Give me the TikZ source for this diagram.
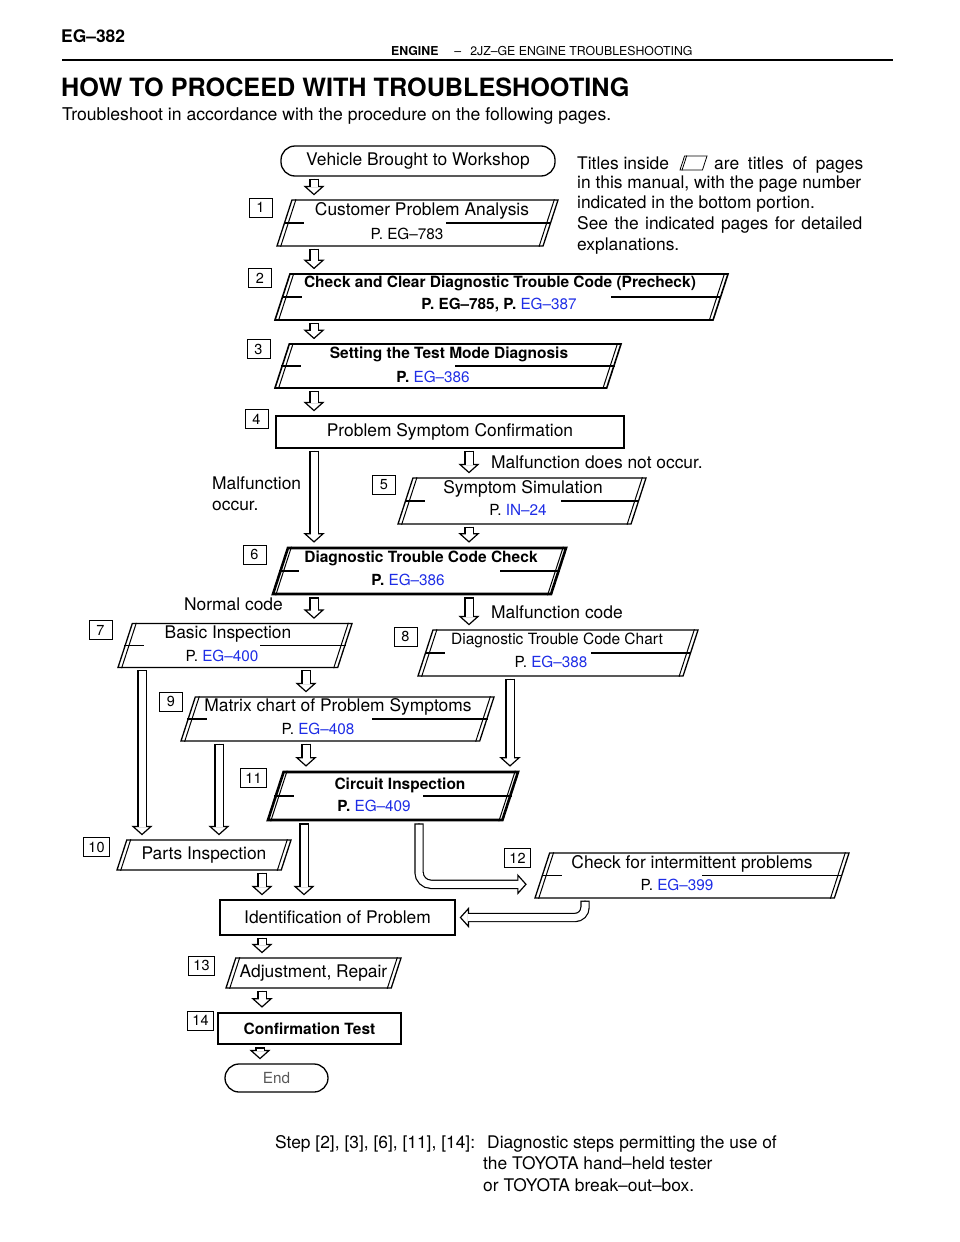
\documentclass[tikz,border=0pt]{standalone}
\usepackage{fontspec}
\setmainfont{TeX Gyre Heros}
\usepackage{xcolor}
\usetikzlibrary{arrows.meta, shapes.geometric, calc}
\definecolor{refblue}{RGB}{30,45,230}
\newcommand{\fsz}[1]{\fontsize{#1}{#1}\selectfont}
\newcommand{\pref}[1]{\textcolor{refblue}{\mdseries #1}}

\begin{document}
\begin{tikzpicture}[x=1pt, y=-1pt,
    every node/.append style={font=\fsz{17.4}, inner sep=1pt},
    pgram/.style={trapezium, trapezium left angle=72, trapezium right angle=108,
      trapezium stretches body=true, draw, line width=1.3pt, inner xsep=2pt, inner ysep=#1},
    heavy/.style={line width=2.6pt},
    plainbox/.style={draw, line width=1.3pt, inner sep=0pt},
    startstop/.style={draw, line width=1.3pt, rounded corners=14pt, inner sep=0pt},
    stepno/.style={draw, line width=0.9pt, minimum width=23pt, minimum height=19pt,
      inner sep=0pt, font=\fsz{14.5}},
    title/.style={},
    boldtitle/.style={font=\bfseries\fsz{15.5}},
    pageref/.style={fill=white, font=\fsz{15.3}},
    boldref/.style={fill=white, font=\bfseries\fsz{15.3}},
    hollow/.style={line width=9.4pt, shorten <=2pt, shorten >=12pt,
      postaction={draw, line width=1.2pt, shorten >=4pt,
        -{Triangle[length=9.5pt, width=21pt, fill=white]}},
      postaction={draw=white, line width=7pt, shorten <=3.2pt, shorten >=12pt}}]
  \useasboundingbox (0,0) rectangle (960,1242);

  % header
  \node (page) [anchor=base west, font=\bfseries\fsz{17.4}] at (60,42) {EG–382};
  \node (head) [anchor=base west, font=\fsz{12.3}] at (390,55.5)
    {\textbf{ENGINE}\hspace{16pt}–\hspace{9pt}2JZ–GE ENGINE TROUBLESHOOTING};
  \draw[line width=1.6pt] (62,60) -- (893,60);
  \node (hdg) [anchor=base west, font=\bfseries\fsz{25.2}] at (60,96)
    {HOW TO PROCEED WITH TROUBLESHOOTING};
  \node (intro) [anchor=base west, font=\fsz{17.6}] at (61,120)
    {Troubleshoot in accordance with the procedure on the following pages.};

  % boxes
  \node (veh) [startstop, minimum width=274pt, minimum height=30pt] at (418,161)
    {Vehicle Brought to Workshop};
  \node (b1) [pgram=23pt, minimum width=281pt] at (417.5,223) {};
  \node (b2) [pgram=23pt, line width=1.6pt, minimum width=453pt] at (501.5,297) {};
  \node (b3) [pgram=22pt, line width=1.6pt, minimum width=346pt] at (448,366) {};
  \node (b4) [plainbox, minimum width=348pt, minimum height=32pt] at (450,432)
    {Problem Symptom Confirmation};
  \node (b5) [pgram=23pt, minimum width=248pt] at (522,501) {};
  \node (b6) [pgram=23pt, heavy, minimum width=293pt] at (419.5,571) {};
  \node (b7) [pgram=22pt, minimum width=234pt] at (235,645.5) {};
  \node (b8) [pgram=23pt, minimum width=280pt] at (558,653) {};
  \node (b9) [pgram=22pt, minimum width=313pt] at (337.5,719) {};
  \node (b10) [pgram=6.8pt, minimum width=174pt] at (204,855) {Parts Inspection};
  \node (b11) [pgram=24pt, heavy, minimum width=250pt] at (393,796) {};
  \node (b12) [pgram=22.5pt, minimum width=314pt] at (692,875.5) {};
  \node (idp) [plainbox, minimum width=235pt, minimum height=35pt] at (337.5,917.5)
    {Identification of Problem};
  \node (b13) [pgram=6.8pt, minimum width=175pt] at (313.5,973) {Adjustment, Repair};
  \node (b14) [plainbox, heavy, minimum width=183pt, minimum height=31pt, font=\bfseries\fsz{15.5}]
    at (309.5,1028.5) {Confirmation Test};
  \node (end) [startstop, minimum width=103pt, minimum height=28pt, font=\fsz{15.3},
    text=black!65] at (276.5,1078) {End};

  % double sides and middle rules of the page boxes
  \foreach \b in {b1,b2,b3,b5,b6,b7,b8,b9,b10,b11,b12,b13}
    \draw[line width=1pt] ($(\b.top left corner)+(4.5,0)$) -- ($(\b.bottom left corner)+(4.5,0)$)
      ($(\b.top right corner)+(-4.5,0)$) -- ($(\b.bottom right corner)+(-4.5,0)$);
  \foreach \b/\len in {b1/105,b2/110,b3/160,b5/78,b6/60,b7/86,b8/100,b9/116,b11/89,b12/140} {
    \draw[line width=1.1pt] ($(\b.top left corner)!.5!(\b.bottom left corner)$) -- +(20,0);
    \draw[line width=1.1pt] ($(\b.top right corner)!.5!(\b.bottom right corner)$) -- +(-\len,0);
  }

  % titles and page numbers
  \node (t1) [title] at (422,211) {Customer Problem Analysis};
  \node (r1) [pageref] at (407,234) {P. EG–783};
  \node (t2) [boldtitle] at (500,283) {Check and Clear Diagnostic Trouble Code (Precheck)};
  \node (r2) [boldref] at (499,305) {P. EG–785, P. \pref{EG–387}};
  \node (t3) [boldtitle] at (449,354) {Setting the Test Mode Diagnosis};
  \node (r3) [boldref] at (433,377) {P. \pref{EG–386}};
  \node (t5) [title] at (523,489) {Symptom Simulation};
  \node (r5) [pageref] at (518,510) {P. \pref{IN–24}};
  \node (t6) [boldtitle] at (421,558) {Diagnostic Trouble Code Check};
  \node (r6) [boldref] at (408,580) {P. \pref{EG–386}};
  \node (t7) [title] at (228,634) {Basic Inspection};
  \node (r7) [pageref] at (222,656) {P. \pref{EG–400}};
  \node (t8) [title, font=\fsz{15.5}] at (557,640) {Diagnostic Trouble Code Chart};
  \node (r8) [pageref] at (551,662) {P. \pref{EG–388}};
  \node (t9) [title] at (338,707) {Matrix chart of Problem Symptoms};
  \node (r9) [pageref] at (318,729) {P. \pref{EG–408}};
  \node (t11) [boldtitle] at (400,785) {Circuit Inspection};
  \node (r11) [boldref] at (374,806) {P. \pref{EG–409}};
  \node (t12) [title] at (692,864) {Check for intermittent problems};
  \node (r12) [pageref] at (677,885) {P. \pref{EG–399}};

  % step numbers
  \foreach \n/\x/\y in {1/260.5/207.5, 2/260/278, 3/258.5/349, 4/256.5/419, 5/384/485,
      6/254.5/554.5, 7/100.5/630, 8/405.5/636.5, 9/171/701.5}
    \node (n\n) [stepno] at (\x,\y) {\n};
  \foreach \n/\x/\y in {10/96.5/847, 11/253.5/778, 12/517.5/858, 13/201.5/965.5, 14/200.5/1020.5}
    \node (n\n) [stepno, minimum width=26pt] at (\x,\y) {\n};

  % branch labels
  \node (occ) [anchor=base west] at (211,489) {Malfunction};
  \node (occ2) [anchor=base west] at (211,510) {occur.};
  \node (nocc) [anchor=base west] at (490,468) {Malfunction does not occur.};
  \node (ncode) [anchor=base east] at (284,610) {Normal code};
  \node (mcode) [anchor=base west] at (490,618) {Malfunction code};

  % note at the right
  \node (note) [anchor=base west] at (576,169) {Titles inside};
  \node (icon) [pgram=7pt, line width=0.8pt, minimum width=27pt] at (693.5,163) {};
  \draw[line width=0.8pt] ($(icon.top left corner)+(2.5,0)$) -- ($(icon.bottom left corner)+(2.5,0)$);
  \node (note1) [anchor=base west] at (713,169) {\makebox[149pt][s]{are titles of pages}};
  \foreach \yy/\tline in {188/{in this manual, with the page number},
      208/{indicated in the bottom portion.},
      229/{\makebox[285pt][s]{See the indicated pages for detailed}},
      250/{explanations.}}
    \node [anchor=base west] at (576,\yy) {\tline};

  % footnote
  \node (stp) [anchor=base west] at (274,1148) {Step [2], [3], [6], [11], [14]:};
  \node (stp1) [anchor=base west] at (486,1148) {Diagnostic steps permitting the use of};
  \node (stp2) [anchor=base west] at (482,1169) {the TOYOTA hand–held tester};
  \node (stp3) [anchor=base west] at (482,1191) {or TOYOTA break–out–box.};

  % arrows
  \coordinate (k142) at (142,0);
  \coordinate (k219) at (219,0);
  \coordinate (k260) at (260,0);
  \coordinate (k262) at (262,0);
  \coordinate (k304) at (304,0);
  \coordinate (k306) at (306,0);
  \coordinate (k314) at (314,0);
  \coordinate (k419) at (419,0);
  \coordinate (k469) at (469,0);
  \coordinate (k510) at (510,0);
  \coordinate (k585) at (585,0);
  \foreach \a/\b/\k in {veh/b1/k314, b1/b2/k314, b2/b3/k314, b3/b4/k314, b4/b6/k314,
      b4/b5/k469, b5/b6/k469, b6/b8/k469, b6/b7/k314, b7/b9/k306, b9/b11/k306,
      b7/b10/k142, b9/b10/k219, b8/b11/k510, b11/idp/k304,
      b10/idp/k262, idp/b13/k262, b13/b14/k262, b14/end/k260}
    \draw[hollow] (\a.south -| \k) -- (\b.north -| \k);
  \coordinate (e12) at ($(b12.bottom left corner)!0.31!(b12.top left corner)+(-8,0)$);
  \draw[hollow, rounded corners=12pt] (b11.south -| k419) |- (e12);
  \draw[hollow, rounded corners=10pt] (b12.south -| k585) |- (idp.east);
\end{tikzpicture}
\end{document}
